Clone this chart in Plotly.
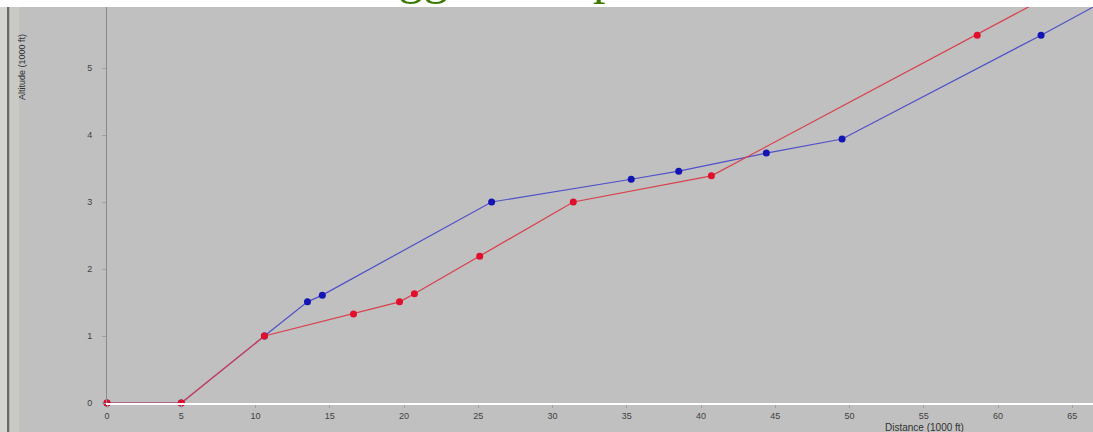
import plotly.graph_objects as go

# Data (distance in 1000 ft, altitude in 1000 ft)
red_x = [0, 5, 10.6, 16.6, 19.7, 20.7, 25.1, 31.4, 40.7, 58.6, 64.5]
red_y = [0, 0, 1.0, 1.33, 1.51, 1.63, 2.19, 3.0, 3.39, 5.49, 6.2]
blue_x = [0, 5, 10.6, 13.5, 14.5, 25.9, 35.3, 38.5, 44.4, 49.5, 62.9, 68.0]
blue_y = [0, 0, 1.0, 1.51, 1.61, 3.0, 3.34, 3.46, 3.73, 3.94, 5.49, 6.1]

x_ticks = list(range(0, 70, 5))
y_ticks = [0, 1, 2, 3, 4, 5]

title_text = "Logged and planned climb"
y_title = "Altitude (1000 ft)"
x_title = "Distance (1000 ft)"

W, H = 1093, 432
L, R, T, B = 107, 0, 7, 29
PW, PH = W - L - R, H - T - B


def px_to_paper_x(px):
    return (px - L) / PW


def px_to_paper_y(py):
    return (H - B - py) / PH


fig = go.Figure()
fig.add_trace(go.Scatter(
    x=blue_x, y=blue_y, mode="lines+markers",
    line=dict(color="#5050c8", width=1.2),
    marker=dict(color="#1414b4", size=7),
    cliponaxis=False, showlegend=False,
))
fig.add_trace(go.Scatter(
    x=red_x, y=red_y, mode="lines+markers",
    line=dict(color="#d8404c", width=1.2),
    marker=dict(color="#e0102c", size=7),
    cliponaxis=False, showlegend=False,
))

shapes = [
    # white band at top
    dict(type="rect", xref="paper", yref="paper",
         x0=px_to_paper_x(-5), x1=px_to_paper_x(W + 5),
         y0=1, y1=px_to_paper_y(-10),
         fillcolor="white", line=dict(width=0), layer="below"),
    # left frame decoration
    dict(type="rect", xref="paper", yref="paper",
         x0=px_to_paper_x(-2), x1=px_to_paper_x(7),
         y0=px_to_paper_y(H + 5), y1=1,
         fillcolor="#d4d4d0", line=dict(width=0), layer="below"),
    dict(type="rect", xref="paper", yref="paper",
         x0=px_to_paper_x(7), x1=px_to_paper_x(9.5),
         y0=px_to_paper_y(H + 5), y1=1,
         fillcolor="#6a6a6a", line=dict(width=0), layer="below"),
    dict(type="rect", xref="paper", yref="paper",
         x0=px_to_paper_x(9.5), x1=px_to_paper_x(19),
         y0=px_to_paper_y(H + 5), y1=1,
         fillcolor="#cacac4", line=dict(width=0), layer="below"),
]

annotations = [
    dict(text=title_text, xref="paper", yref="paper",
         x=px_to_paper_x(341), y=px_to_paper_y(6), xanchor="left", yanchor="bottom",
         showarrow=False,
         font=dict(family="Liberation Serif", size=50, color="#3a7a00")),
    dict(text=y_title, xref="paper", yref="paper",
         x=px_to_paper_x(22), y=px_to_paper_y(67),
         xanchor="center", yanchor="middle", textangle=-90, showarrow=False,
         font=dict(family="Arial", size=9, color="#303030")),
    dict(text=x_title, xref="paper", yref="paper",
         x=px_to_paper_x(924), y=px_to_paper_y(427),
         xanchor="center", yanchor="middle", showarrow=False,
         font=dict(family="Arial", size=10, color="#303030")),
]

fig.update_layout(
    width=W, height=H,
    margin=dict(l=L, r=R, t=T, b=B, pad=0),
    paper_bgcolor="#c0c0c0", plot_bgcolor="#c0c0c0",
    shapes=shapes, annotations=annotations,
    showlegend=False,
)
fig.update_xaxes(
    range=[0, PW / 14.85], tickvals=x_ticks, ticktext=[str(v) for v in x_ticks],
    showgrid=False, zeroline=False,
    showline=True, linecolor="white", linewidth=1.5,
    ticks="outside", ticklen=3, tickcolor="#a0a0a0",
    tickfont=dict(family="Arial", size=9, color="#404040"),
)
fig.update_yaxes(
    range=[0, PH / 67.0], tickvals=y_ticks, ticktext=[str(v) for v in y_ticks],
    showgrid=False, zeroline=False,
    showline=True, linecolor="#8a8a8a", linewidth=1,
    ticks="outside", ticklen=4, tickcolor="#a0a0a0",
    ticklabelstandoff=8,
    tickfont=dict(family="Arial", size=9, color="#404040"),
)

fig.write_html(
    "out.html",
    config={"displayModeBar": False},
    post_script="document.body.style.margin='0';document.body.style.overflow='hidden';",
)
